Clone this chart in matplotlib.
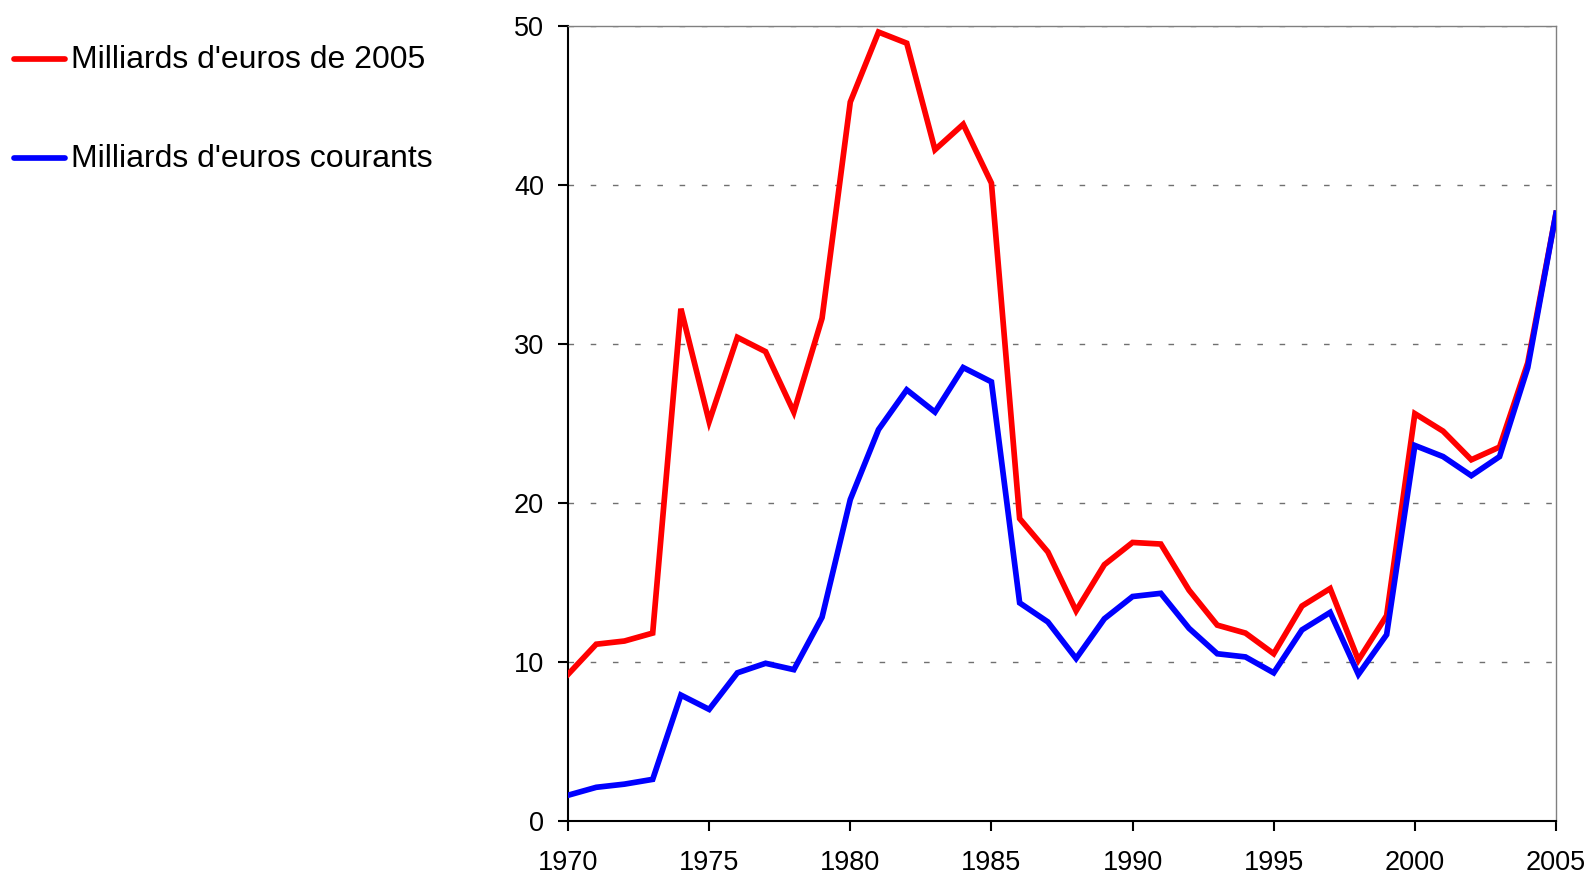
import matplotlib
matplotlib.use("Agg")
import matplotlib.pyplot as plt
from matplotlib.lines import Line2D

years = list(range(1970, 2006))
series_labels = ["Milliards d'euros de 2005", "Milliards d'euros courants"]
series_colors = ["#ff0000", "#0000ff"]
euros_2005 = [9.2, 11.1, 11.3, 11.8, 32.2, 25.1, 30.4, 29.5, 25.7, 31.6,
              45.2, 49.6, 48.9, 42.2, 43.8, 40.1, 19.0, 16.9, 13.2, 16.1,
              17.5, 17.4, 14.5, 12.3, 11.8, 10.5, 13.5, 14.6, 10.1, 12.9,
              25.6, 24.5, 22.7, 23.5, 28.8, 38.2]
euros_courants = [1.6, 2.1, 2.3, 2.6, 7.9, 7.0, 9.3, 9.9, 9.5, 12.8,
                  20.2, 24.6, 27.1, 25.7, 28.5, 27.6, 13.7, 12.5, 10.2, 12.7,
                  14.1, 14.3, 12.1, 10.5, 10.3, 9.3, 12.0, 13.1, 9.2, 11.7,
                  23.6, 22.9, 21.7, 22.9, 28.5, 38.2]
x_ticks = [1970, 1975, 1980, 1985, 1990, 1995, 2000, 2005]
y_ticks = [0, 10, 20, 30, 40, 50]

plt.rcParams['font.family'] = ['Liberation Sans', 'DejaVu Sans']

W, H = 1589, 874
fig = plt.figure(figsize=(W / 100, H / 100), dpi=100)
ax = fig.add_axes([568 / W, 1 - 820.7 / H, (1556 - 568) / W, (820.7 - 25.7) / H])

lines = []
for vals, col in zip([euros_2005, euros_courants], series_colors):
    ln, = ax.plot(years, vals, color=col, lw=4.1, solid_joinstyle='miter', zorder=3)
    lines.append(ln)

ax.set_xlim(1970, 2005)
ax.set_ylim(0, 50)
ax.set_xticks(x_ticks)
ax.set_yticks(y_ticks)
ax.yaxis.grid(True, color='#707070', lw=1.0, linestyle=(0, (4, 12)))
ax.set_axisbelow(True)

for s in ['left', 'bottom']:
    ax.spines[s].set_color('black')
    ax.spines[s].set_linewidth(1.5)
for s in ['top', 'right']:
    ax.spines[s].set_color('#808080')
    ax.spines[s].set_linewidth(1.0)

ax.tick_params(axis='both', direction='out', length=7.2, width=1.5, color='black',
               labelsize=19.5)
ax.tick_params(axis='x', pad=14)
ax.tick_params(axis='y', pad=10)

# legend drawn at the left of the figure
leg_y = [59, 158]
for ln, lab, yy in zip(lines, series_labels, leg_y):
    fig.add_artist(Line2D([14 / W, 65 / W], [1 - yy / H, 1 - yy / H],
                          color=ln.get_color(), lw=4.1, solid_capstyle='round',
                          transform=fig.transFigure))
    fig.text(71 / W, 1 - (yy + 1) / H, lab, fontsize=23, va='center', ha='left')

fig.savefig("out.png", dpi=100)
